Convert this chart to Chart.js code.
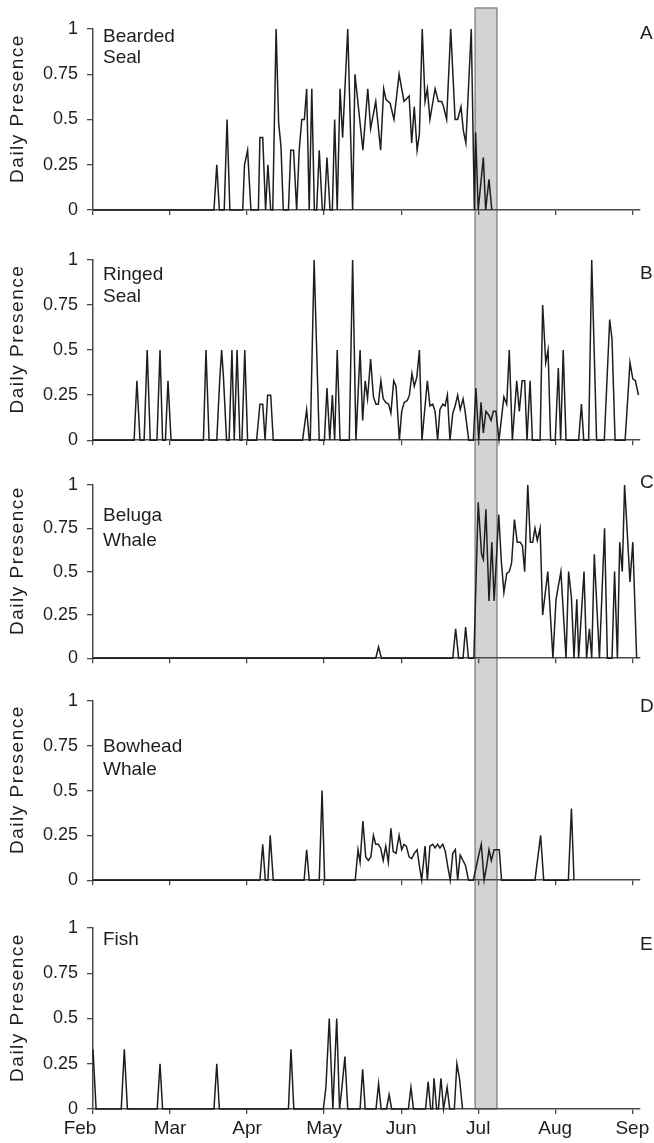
<!DOCTYPE html>
<html><head><meta charset="utf-8">
<script src="https://cdn.jsdelivr.net/npm/chart.js@4.4.1/dist/chart.umd.min.js"></script>
<style>
html,body{margin:0;padding:0;background:#fff;}
body{width:654px;height:1143px;position:relative;overflow:hidden;}
.panel{position:absolute;left:0;width:654px;}
</style></head><body>
<div class="panel" id="pA"><canvas id="cA"></canvas></div>
<div class="panel" id="pB"><canvas id="cB"></canvas></div>
<div class="panel" id="pC"><canvas id="cC"></canvas></div>
<div class="panel" id="pD"><canvas id="cD"></canvas></div>
<div class="panel" id="pE"><canvas id="cE"></canvas></div>
<script>
// ---- tick labels / categories ----
const monthLabels = ['Feb','Mar','Apr','May','Jun','Jul','Aug','Sep'];
const monthTickDays = [0,30,60,90,120,150,180,210];   // days since 1 Feb
const yTickValues = [0,0.25,0.5,0.75,1];
const yTickLabels = ['0','0.25','0.5','0.75','1'];
const studyWindow = [148.8,157.3];                   // shaded period (days since 1 Feb)

// ---- series: [day since 1 Feb, daily presence] ----
const beardedSeal = [[0,0],[47.1,0],[48.2,0.25],[49.2,0],[51.1,0],[52.2,0.5],[53.3,0],[58.3,0],[59.0,0.25],[60.2,0.33],[61.5,0],[64.4,0],[65.0,0.4],[66.1,0.4],[67.2,0],[68.1,0.25],[69.2,0],[70.0,0],[71.3,1],[72.3,0.48],[73.2,0.35],[74.1,0],[76.1,0],[77.0,0.33],[78.1,0.33],[79.3,0],[80.3,0.33],[81.3,0.5],[82.3,0.5],[83.2,0.67],[84.2,0],[85.2,0.67],[86.2,0],[87.1,0],[88.1,0.33],[89.3,0],[90.1,0],[91.1,0.29],[92.3,0],[93.2,0],[94.1,0.5],[95.1,0],[96.2,0.67],[97.2,0.4],[99.2,1],[101.1,0],[102.0,0.75],[102.9,0.63],[105.1,0.33],[107.0,0.67],[108.1,0.45],[110.1,0.6],[112.0,0.33],[113.2,0.67],[114.1,0.61],[115.7,0.59],[117.2,0.5],[119.2,0.75],[121.1,0.6],[123.1,0.63],[124.1,0.37],[125.1,0.57],[126.2,0.33],[127.1,0.42],[128.2,1],[129.3,0.6],[130.2,0.67],[131.2,0.5],[133.2,0.67],[134.5,0.6],[135.8,0.6],[136.5,0.57],[137.7,0.5],[139.3,1],[141.0,0.5],[142.0,0.5],[143.3,0.57],[144.2,0.44],[145.2,0.37],[147.3,1],[148.5,0],[149.0,0.43],[150.0,0],[152.0,0.29],[152.9,0],[154.2,0.17],[155.3,0]];

const ringedSeal = [[0,0],[16.0,0],[17.1,0.33],[18.3,0],[19.9,0],[21.1,0.5],[22.3,0],[24.9,0],[26.1,0.5],[27.1,0],[28.2,0],[29.2,0.33],[30.4,0],[43.0,0],[44.0,0.5],[45.2,0],[48.2,0],[49.4,0.35],[50.1,0.5],[50.8,0.35],[52.0,0],[53.0,0],[54.1,0.5],[55.0,0],[56.1,0.5],[57.2,0],[58.0,0],[59.1,0.5],[60.2,0],[63.7,0],[65.0,0.2],[66.1,0.2],[67.0,0],[68.0,0.25],[69.2,0.25],[70.2,0],[81.6,0],[83.2,0.17],[84.2,0],[84.6,0],[86.1,1],[88.1,0],[90.1,0],[91.1,0.29],[92.2,0],[93.2,0.25],[94.1,0],[95.1,0.5],[96.2,0],[99.8,0],[101.1,1],[102.4,0],[104.0,0.5],[105.0,0.11],[106.0,0.33],[106.9,0.23],[108.1,0.45],[109.2,0.24],[110.2,0.2],[111.1,0.2],[112.1,0.33],[113.0,0.23],[114.0,0.21],[115.1,0.2],[116.0,0.15],[117.1,0.33],[118.0,0.3],[119.3,0],[120.2,0.16],[121.2,0.21],[122.4,0.22],[123.2,0.25],[124.2,0.37],[125.1,0.3],[126.1,0.35],[127.1,0.5],[128.1,0],[130.2,0.33],[131.2,0.19],[132.3,0.2],[133.2,0.16],[134.2,0],[135.1,0.17],[136.2,0.2],[137.1,0.19],[138.0,0.25],[139.0,0],[140.1,0.15],[141.0,0.19],[142.0,0.25],[143.0,0.17],[144.1,0.23],[144.9,0.16],[146.3,0],[148.1,0],[149.1,0.29],[150.2,0],[151.1,0.21],[152.0,0.04],[153.0,0.16],[154.1,0.14],[155.0,0.11],[155.9,0.16],[156.9,0.16],[158.1,0],[160.0,0.24],[161.1,0.2],[162.1,0.5],[163.3,0],[165.0,0.33],[166.0,0.16],[167.1,0.33],[168.1,0.33],[169.0,0],[170.2,0.33],[171.1,0],[174.1,0],[175.1,0.75],[176.3,0.43],[177.2,0.5],[178.2,0],[180.0,0],[181.2,0.4],[182.1,0],[183.1,0.5],[184.2,0],[189.1,0],[190.2,0.2],[191.1,0],[193.0,0],[194.2,1],[196.1,0],[199.1,0],[201.2,0.67],[202.1,0.56],[203.3,0],[207.2,0],[209.1,0.43],[210.2,0.34],[211.2,0.33],[212.4,0.25]];

const belugaWhale = [[0,0],[110.1,0],[111.2,0.065],[112.3,0],[140.1,0],[141.2,0.17],[142.4,0],[144.1,0],[145.1,0.18],[146.2,0],[148.3,0],[150.0,0.9],[151.3,0.6],[152.0,0.57],[153.0,0.86],[154.2,0.33],[155.3,0.67],[156.2,0.33],[158.0,0.83],[159.0,0.56],[160.0,0.38],[161.1,0.49],[162.1,0.5],[163.0,0.55],[164.1,0.8],[165.2,0.67],[166.3,0.67],[167.2,0.65],[168.1,0.5],[169.3,1],[170.3,0.67],[171.2,0.67],[172.1,0.75],[173.0,0.68],[174.1,0.75],[175.1,0.25],[177.1,0.5],[179.1,0],[180.3,0.34],[182.2,0.5],[184.2,0],[185.2,0.5],[186.3,0.35],[187.3,0],[188.4,0.34],[189.1,0],[191.2,0.5],[192.2,0],[193.3,0.17],[194.2,0],[195.2,0.6],[197.2,0],[199.2,0.75],[200.3,0],[202.1,0],[203.1,0.5],[204.2,0],[205.1,0.67],[206.1,0.5],[207.0,1],[209.1,0.44],[210.2,0.67],[211.7,0]];

const bowheadWhale = [[0,0],[65.0,0],[66.1,0.2],[67.1,0],[68.1,0],[69.0,0.25],[70.2,0],[82.2,0],[83.2,0.17],[84.2,0],[88.1,0],[89.2,0.5],[90.2,0],[102.1,0],[103.2,0.17],[104.0,0.1],[105.1,0.33],[106.2,0.13],[107.2,0.11],[108.2,0.13],[109.2,0.25],[110.1,0.2],[111.1,0.2],[112.0,0.18],[113.0,0.11],[114.0,0.19],[115.0,0.1],[116.0,0.29],[116.9,0.16],[118.0,0.15],[119.2,0.25],[120.2,0.17],[121.1,0.2],[122.0,0.19],[123.1,0.13],[124.1,0.12],[125.1,0.15],[126.2,0.17],[127.2,0.07],[128.0,0],[129.3,0.19],[130.2,0],[131.2,0.19],[132.3,0.2],[133.2,0.18],[134.2,0.2],[135.1,0.18],[136.2,0.2],[137.2,0.16],[138.1,0.08],[139.1,0],[140.1,0.15],[141.1,0.17],[142.0,0],[143.0,0.14],[144.1,0.11],[145.1,0.08],[146.2,0],[148.1,0],[150.2,0.14],[151.2,0.2],[152.3,0],[153.3,0.08],[154.2,0.17],[155.1,0.11],[156.2,0.17],[157.2,0.17],[158.2,0.17],[159.1,0],[172.1,0],[174.3,0.25],[175.5,0],[185.1,0],[186.3,0.4],[187.3,0]];

const fish = [[0,0.33],[1.2,0],[11.0,0],[12.2,0.33],[13.4,0],[25.0,0],[26.1,0.25],[27.1,0],[47.1,0],[48.2,0.25],[49.2,0],[76.1,0],[77.1,0.33],[78.2,0],[89.7,0],[90.7,0.12],[92.0,0.5],[93.4,0],[94.9,0.5],[96.0,0],[96.8,0.1],[98.1,0.29],[99.2,0],[104.0,0],[105.0,0.22],[106.0,0],[110.2,0],[111.2,0.14],[112.2,0],[114.3,0],[115.3,0.08],[116.3,0],[122.8,0],[123.8,0.12],[124.8,0],[129.5,0],[130.5,0.15],[131.5,0],[132.2,0],[132.8,0.17],[133.8,0],[134.5,0],[135.5,0.17],[136.5,0],[137.9,0.12],[138.9,0],[140.7,0],[141.7,0.25],[142.7,0.17],[143.9,0]];

// ---- layout (page pixels) ----
const FONT = "'Liberation Sans', Arial, sans-serif";
const INK = '#1e1e1e';
const AXIS = '#4a4a4a';
const panels = [
  {key:'A', series:beardedSeal,  lines:['Bearded','Seal'], top:0,   height:235, plotTop:29,  plotBottom:210,  labelY:[42,63],   letterY:39,  boxTop:8, last:false},
  {key:'B', series:ringedSeal,   lines:['Ringed','Seal'],  top:235, height:225, plotTop:260, plotBottom:441,  labelY:[280,302], letterY:279, boxTop:0, last:false},
  {key:'C', series:belugaWhale,  lines:['Beluga','Whale'], top:460, height:218, plotTop:485, plotBottom:666,  labelY:[521,546], letterY:488, boxTop:0, last:false},
  {key:'D', series:bowheadWhale, lines:['Bowhead','Whale'],top:678, height:222, plotTop:701, plotBottom:882,  labelY:[752,775], letterY:712, boxTop:0, last:false},
  {key:'E', series:fish,         lines:['Fish'],           top:900, height:243, plotTop:928, plotBottom:1109, labelY:[945],     letterY:950, boxTop:0, last:true}
];

function makeDecor(P){
  return {
    id:'decor'+P.key,
    beforeDraw(chart){
      const ctx = chart.ctx, xs = chart.scales.x;
      const l = xs.getPixelForValue(studyWindow[0]);
      const r = xs.getPixelForValue(studyWindow[1]);
      const t = P.boxTop;
      const b = P.last ? chart.chartArea.bottom : chart.height;
      ctx.save();
      ctx.fillStyle = '#d3d3d3';
      ctx.fillRect(l, t, r - l, b - t);
      ctx.strokeStyle = '#8a8a8a';
      ctx.lineWidth = 1.5;
      ctx.beginPath();
      ctx.moveTo(l, b); ctx.lineTo(l, t);
      if (P.boxTop > 0) ctx.lineTo(r, t); else ctx.moveTo(r, t);
      ctx.lineTo(r, b);
      if (P.last) ctx.lineTo(l, b);
      ctx.stroke();
      ctx.restore();
      // first month label sits left of its tick in the original
      if (P.last) {
        try {
          const items = xs.getLabelItems(chart.chartArea);
          if (items && items[0] && !items[0]._shifted) {
            items[0].options.translation[0] -= 13;
            items[0]._shifted = true;
          }
        } catch (e) {}
      }
    },
    afterDraw(chart){
      const ctx = chart.ctx, ca = chart.chartArea;
      ctx.save();
      ctx.fillStyle = INK;
      ctx.textBaseline = 'alphabetic';
      ctx.textAlign = 'left';
      ctx.font = '19px ' + FONT;
      P.lines.forEach((s, i) => ctx.fillText(s, ca.left + 10, P.labelY[i] - P.top));
      ctx.fillText(P.key, 640, P.letterY - P.top);
      // axis title
      ctx.translate(18, (ca.top + ca.bottom) / 2 - 11);
      ctx.rotate(-Math.PI / 2);
      ctx.textAlign = 'center';
      ctx.textBaseline = 'middle';
      ctx.font = '19px ' + FONT;
      try { ctx.letterSpacing = '1.5px'; } catch(e) {}
      ctx.fillText('Daily Presence', 0, 0);
      ctx.restore();
    }
  };
}

panels.forEach(P => {
  const wrap = document.getElementById('p' + P.key);
  wrap.style.top = P.top + 'px';
  wrap.style.height = P.height + 'px';
  const xAxisH = P.top + P.height - P.plotBottom;
  new Chart(document.getElementById('c' + P.key), {
    type: 'line',
    data: {
      datasets: [{
        data: P.series.map(p => ({x: p[0], y: p[1]})),
        borderColor: INK, borderWidth: 1.5, pointRadius: 0, tension: 0, fill: false, clip: 8
      }]
    },
    options: {
      responsive: true, maintainAspectRatio: false, animation: false, parsing: false,
      layout: {padding: {top: P.plotTop - P.top, right: 14, left: 0, bottom: 0}},
      plugins: {legend: {display: false}, tooltip: {enabled: false}},
      scales: {
        x: {
          type: 'linear', min: 0, max: 213,
          afterBuildTicks: s => { s.ticks = monthTickDays.map(v => ({value: v})); },
          afterFit: s => { s.height = xAxisH; },
          grid: {display: true, drawOnChartArea: false, drawTicks: true, tickLength: 5, color: AXIS, lineWidth: 1.3},
          border: {display: true, color: AXIS, width: 1.5},
          ticks: {display: P.last, autoSkip: false, maxRotation: 0, padding: 3, color: INK,
                  font: {family: FONT, size: 19},
                  callback: v => monthLabels[monthTickDays.indexOf(v)]}
        },
        y: {
          min: 0, max: 1,
          afterBuildTicks: s => { s.ticks = yTickValues.map(v => ({value: v})); },
          afterFit: s => { s.width = 93; },
          grid: {display: true, drawOnChartArea: false, drawTicks: true, tickLength: 6, color: AXIS, lineWidth: 1.3},
          border: {display: true, color: AXIS, width: 1.5},
          ticks: {padding: 9, color: INK, font: {family: FONT, size: 18},
                  callback: v => yTickLabels[yTickValues.indexOf(v)]}
        }
      }
    },
    plugins: [makeDecor(P)]
  });
});
</script>
</body></html>
